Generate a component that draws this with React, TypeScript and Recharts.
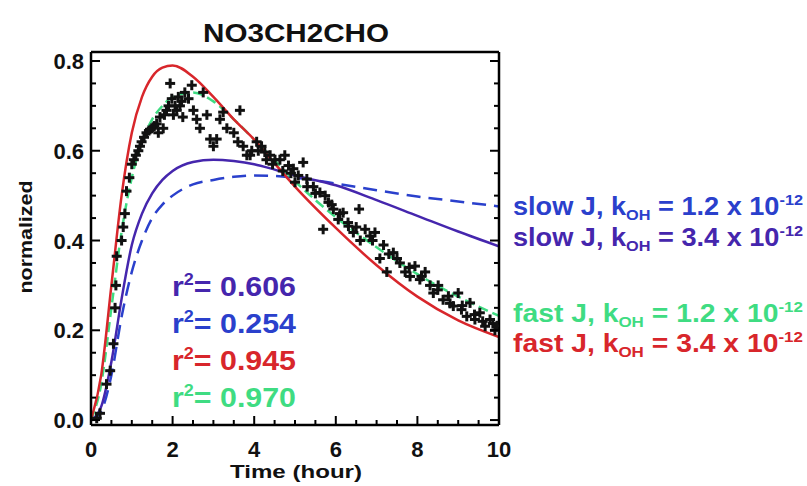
import React from 'react';
import { ComposedChart, Line, Scatter, XAxis, YAxis } from 'recharts';

// model curves
const curveTime = [0, 0.25, 0.5, 0.75, 1, 1.25, 1.5, 1.75, 2, 2.5, 3, 3.5, 4, 4.5, 5, 6, 7, 8, 9, 10];
const fastJ34 = [0, 0.1, 0.3, 0.5, 0.64, 0.72, 0.765, 0.785, 0.79, 0.765, 0.72, 0.67, 0.625, 0.572, 0.52, 0.428, 0.345, 0.275, 0.222, 0.185];
const fastJ12 = [0, 0.08, 0.25, 0.42, 0.54, 0.62, 0.67, 0.7, 0.72, 0.73, 0.71, 0.67, 0.625, 0.578, 0.532, 0.452, 0.385, 0.325, 0.275, 0.232];
const slowJ34 = [0, 0.03, 0.13, 0.27, 0.39, 0.46, 0.505, 0.535, 0.555, 0.575, 0.58, 0.577, 0.57, 0.558, 0.545, 0.523, 0.49, 0.455, 0.42, 0.387];
const slowJ12 = [0, 0.02, 0.1, 0.23, 0.33, 0.4, 0.45, 0.48, 0.5, 0.525, 0.535, 0.542, 0.545, 0.544, 0.54, 0.527, 0.512, 0.498, 0.487, 0.476];

// measurements
const obsTime = [0.14, 0.22, 0.38, 0.47, 0.55, 0.59, 0.61, 0.63, 0.75, 0.79, 0.83, 0.87, 0.94, 1.0, 1.05, 1.1, 1.16, 1.2, 1.24, 1.3, 1.36, 1.42, 1.49, 1.55, 1.61, 1.65, 1.69, 1.77, 1.8, 1.85, 1.9, 1.94, 1.98, 2.02, 2.06, 2.1, 2.14, 2.18, 2.22, 2.25, 2.3, 2.39, 2.47, 2.51, 2.59, 2.67, 2.75, 2.84, 2.92, 3.0, 3.08, 3.16, 3.24, 3.33, 3.5, 3.6, 3.65, 3.73, 3.82, 3.9, 3.94, 4.06, 4.1, 4.18, 4.26, 4.3, 4.39, 4.45, 4.51, 4.63, 4.7, 4.75, 4.84, 4.9, 4.96, 5.0, 5.08, 5.2, 5.29, 5.3, 5.45, 5.5, 5.61, 5.69, 5.74, 5.82, 5.9, 5.94, 6.06, 6.1, 6.18, 6.3, 6.31, 6.43, 6.5, 6.57, 6.6, 6.72, 6.84, 6.9, 6.96, 7.08, 7.17, 7.25, 7.3, 7.41, 7.5, 7.57, 7.7, 7.8, 7.82, 7.94, 8.06, 8.1, 8.19, 8.31, 8.39, 8.5, 8.51, 8.63, 8.76, 8.8, 8.88, 9.0, 9.08, 9.1, 9.21, 9.29, 9.4, 9.41, 9.53, 9.6, 9.66, 9.78, 9.85, 9.9, 9.95];
const obsValue = [0.004, 0.015, 0.08, 0.11, 0.17, 0.25, 0.3, 0.365, 0.4, 0.43, 0.46, 0.51, 0.54, 0.57, 0.58, 0.59, 0.6, 0.61, 0.62, 0.63, 0.64, 0.645, 0.65, 0.655, 0.66, 0.64, 0.675, 0.65, 0.68, 0.69, 0.7, 0.75, 0.716, 0.68, 0.7, 0.69, 0.72, 0.7, 0.71, 0.675, 0.73, 0.716, 0.746, 0.69, 0.67, 0.65, 0.73, 0.68, 0.626, 0.61, 0.626, 0.67, 0.686, 0.65, 0.64, 0.62, 0.69, 0.61, 0.59, 0.59, 0.6, 0.62, 0.6, 0.61, 0.597, 0.58, 0.59, 0.57, 0.58, 0.58, 0.555, 0.59, 0.567, 0.55, 0.56, 0.53, 0.545, 0.574, 0.537, 0.52, 0.52, 0.505, 0.507, 0.425, 0.5, 0.485, 0.48, 0.47, 0.447, 0.46, 0.462, 0.44, 0.432, 0.418, 0.43, 0.47, 0.4, 0.425, 0.41, 0.4, 0.418, 0.36, 0.39, 0.33, 0.37, 0.373, 0.36, 0.35, 0.33, 0.34, 0.32, 0.343, 0.313, 0.32, 0.33, 0.3, 0.283, 0.29, 0.3, 0.268, 0.276, 0.26, 0.254, 0.283, 0.246, 0.255, 0.231, 0.261, 0.235, 0.224, 0.239, 0.22, 0.209, 0.224, 0.215, 0.2, 0.21];

const xTicks = [0, 0.5, 1, 1.5, 2, 2.5, 3, 3.5, 4, 4.5, 5, 5.5, 6, 6.5, 7, 7.5, 8, 8.5, 9, 9.5, 10];
const yTicks = [0, 0.05, 0.1, 0.15, 0.2, 0.25, 0.3, 0.35, 0.4, 0.45, 0.5, 0.55, 0.6, 0.65, 0.7, 0.75, 0.8];

const rSquared = ['0.606', '0.254', '0.945', '0.970'];
const legendLabels = [
  { kOH: '1.2', speed: 'slow' },
  { kOH: '3.4', speed: 'slow' },
  { kOH: '1.2', speed: 'fast' },
  { kOH: '3.4', speed: 'fast' },
];

const RED = '#d8262b';
const GREEN = '#3fdc82';
const PURPLE = '#4526ad';
const BLUE = '#2a40cc';
const FONT = '"Liberation Sans", Arial, sans-serif';

const curveData = curveTime.map((t, i) => ({ t, red: fastJ34[i], green: fastJ12[i], purple: slowJ34[i], blue: slowJ12[i] }));
const obsData = obsTime.map((t, i) => ({ t, v: obsValue[i] }));

const isMajorX = (v: number) => Math.abs(v % 2) < 1e-6;
const isMajorY = (v: number) => Math.abs(v * 5 - Math.round(v * 5)) < 1e-6;

const BottomTick = (props: any) => {
  const { x, y, payload } = props;
  const major = isMajorX(payload.value);
  return (
    <g>
      <path d={`M${x},${y}V${y - (major ? 9 : 5)}`} stroke="#000" strokeWidth={2} fill="none" />
      {major && (
        <text x={x} y={y + 32} textAnchor="middle" fontFamily={FONT} fontWeight="bold" fontSize={22} fill="#111">
          {payload.value}
        </text>
      )}
    </g>
  );
};

const TopTick = (props: any) => {
  const { x, y, payload } = props;
  const major = isMajorX(payload.value);
  return <path d={`M${x},${y}V${y + (major ? 9 : 5)}`} stroke="#000" strokeWidth={2} fill="none" />;
};

const LeftTick = (props: any) => {
  const { x, y, payload } = props;
  const major = isMajorY(payload.value);
  return (
    <g>
      <path d={`M${x},${y}H${x + (major ? 9 : 5)}`} stroke="#000" strokeWidth={2} fill="none" />
      {major && (
        <text x={x - 7} y={y + 8} textAnchor="end" fontFamily={FONT} fontWeight="bold" fontSize={22} fill="#111">
          {payload.value.toFixed(1)}
        </text>
      )}
    </g>
  );
};

const RightTick = (props: any) => {
  const { x, y, payload } = props;
  const major = isMajorY(payload.value);
  return <path d={`M${x},${y}H${x - (major ? 9 : 5)}`} stroke="#000" strokeWidth={2} fill="none" />;
};

const PlusMark = ({ cx, cy }: any) => (
  <g>
    <line x1={cx - 5} y1={cy} x2={cx + 5} y2={cy} stroke="#111" strokeWidth={3} />
    <line x1={cx} y1={cy - 5} x2={cx} y2={cy + 5} stroke="#111" strokeWidth={3} />
  </g>
);

const frameAxis = { stroke: '#000', strokeWidth: 2.5 };

export default function App() {
  const legendColors = [BLUE, PURPLE, GREEN, RED];
  const legendY = [215, 246, 322, 352];
  const rColors = [PURPLE, BLUE, RED, GREEN];
  return (
    <div style={{ position: 'absolute', left: 0, top: 0, width: 807, height: 486, background: '#fff' }}>
      <ComposedChart width={807} height={486} margin={{ top: 51, right: 307, bottom: 0, left: 0 }}>
        <XAxis
          xAxisId="b"
          dataKey="t"
          type="number"
          domain={[0, 10]}
          ticks={xTicks}
          interval={0}
          allowDataOverflow
          height={61}
          tickSize={0}
          tickMargin={0}
          tickLine={false}
          axisLine={frameAxis}
          tick={(p: any) => <BottomTick {...p} />}
        />
        <XAxis
          xAxisId="top"
          orientation="top"
          type="number"
          domain={[0, 10]}
          ticks={xTicks}
          interval={0}
          allowDataOverflow
          height={1}
          tickSize={0}
          tickMargin={0}
          tickLine={false}
          axisLine={frameAxis}
          tick={(p: any) => <TopTick {...p} />}
        />
        <YAxis
          yAxisId="l"
          type="number"
          domain={[-0.011, 0.82]}
          ticks={yTicks}
          interval={0}
          allowDataOverflow
          width={91}
          tickSize={0}
          tickMargin={0}
          tickLine={false}
          axisLine={frameAxis}
          tick={(p: any) => <LeftTick {...p} />}
        />
        <YAxis
          yAxisId="r"
          orientation="right"
          type="number"
          domain={[-0.011, 0.82]}
          ticks={yTicks}
          interval={0}
          allowDataOverflow
          width={1}
          tickSize={0}
          tickMargin={0}
          tickLine={false}
          axisLine={frameAxis}
          tick={(p: any) => <RightTick {...p} />}
        />
        <Scatter xAxisId="b" yAxisId="l" data={obsData} dataKey="v" shape={<PlusMark />} isAnimationActive={false} />
        <Line xAxisId="b" yAxisId="l" data={curveData} dataKey="blue" type="monotone" stroke={BLUE} strokeWidth={2.5} strokeDasharray="14 8" dot={false} isAnimationActive={false} />
        <Line xAxisId="b" yAxisId="l" data={curveData} dataKey="purple" type="monotone" stroke={PURPLE} strokeWidth={2.5} dot={false} isAnimationActive={false} />
        <Line xAxisId="b" yAxisId="l" data={curveData} dataKey="green" type="monotone" stroke={GREEN} strokeWidth={2.5} strokeDasharray="10 5" dot={false} isAnimationActive={false} />
        <Line xAxisId="b" yAxisId="l" data={curveData} dataKey="red" type="monotone" stroke={RED} strokeWidth={2.5} dot={false} isAnimationActive={false} />
      </ComposedChart>
      <svg width={807} height={486} style={{ position: 'absolute', left: 0, top: 0, pointerEvents: 'none' }} fontFamily={FONT} fontWeight="bold">
        <text x={296} y={42} textAnchor="middle" fontSize={26} fill="#111" textLength={186} lengthAdjust="spacingAndGlyphs">NO3CH2CHO</text>
        <text x={296} y={478} textAnchor="middle" fontSize={19} fill="#111" textLength={132} lengthAdjust="spacingAndGlyphs">Time (hour)</text>
        <text x={0} y={0} textAnchor="middle" fontSize={19} fill="#111" transform="translate(32 237) rotate(-90)" textLength={113} lengthAdjust="spacingAndGlyphs">normalized</text>
        {rSquared.map((r, i) => (
          <text key={r} x={172} y={296 + i * 37} fontSize={27} fill={rColors[i]} textLength={124} lengthAdjust="spacingAndGlyphs">
            r<tspan fontSize={16} dy={-11}>2</tspan>
            <tspan dy={11}>= {r}</tspan>
          </text>
        ))}
        {legendLabels.map((l, i) => (
          <text key={i} x={513} y={legendY[i]} fontSize={25} fill={legendColors[i]} textLength={290} lengthAdjust="spacingAndGlyphs">
            {l.speed} J, k<tspan fontSize={15} dy={5}>OH</tspan>
            <tspan dy={-5}> = {l.kOH} x 10</tspan>
            <tspan fontSize={15} dy={-10}>-12</tspan>
          </text>
        ))}
      </svg>
    </div>
  );
}
